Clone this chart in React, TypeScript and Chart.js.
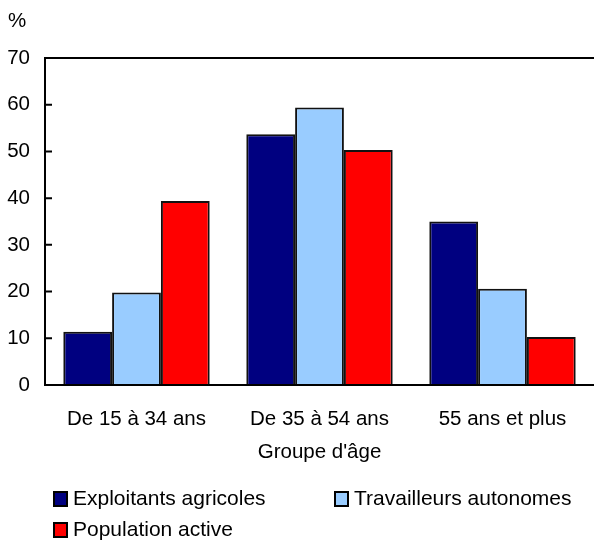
import React, { useEffect, useRef } from "react";
import { Chart, registerables } from "chart.js";

Chart.register(...registerables);

const categories = ["De 15 à 34 ans", "De 35 à 54 ans", "55 ans et plus"];
const seriesNames = ["Exploitants agricoles", "Travailleurs autonomes", "Population active"];
const exploitants = [11.4, 53.7, 35.0];
const travailleurs = [19.8, 59.4, 20.6];
const population = [39.4, 50.3, 10.3];
const colors = ["#000080", "#99CCFF", "#FF0000"];
const yTicks = [0, 10, 20, 30, 40, 50, 60, 70];
const xTitle = "Groupe d'âge";
const yUnit = "%";

const FONT = "'Liberation Sans', Arial, sans-serif";

const decorPlugin = {
  id: "decor",
  afterDraw(chart: any) {
    const { ctx, chartArea, scales } = chart;
    const { left, right, top, bottom } = chartArea;
    const y = scales.y;
    ctx.save();
    ctx.strokeStyle = "#000";
    ctx.lineWidth = 2;
    ctx.beginPath();
    ctx.moveTo(left, top);
    ctx.lineTo(right, top);
    ctx.moveTo(left, top - 1);
    ctx.lineTo(left, bottom + 1);
    ctx.moveTo(left - 1, bottom);
    ctx.lineTo(right, bottom);
    y.ticks.forEach((t: any) => {
      const py = y.getPixelForValue(t.value);
      ctx.moveTo(left, py);
      ctx.lineTo(left + 7, py);
    });
    ctx.stroke();

    ctx.fillStyle = "#000";
    ctx.font = `20.5px ${FONT}`;
    ctx.textBaseline = "middle";
    ctx.textAlign = "left";
    ctx.fillText(yUnit, 8, 21);

    ctx.textAlign = "center";
    ctx.fillText(xTitle, (left + right) / 2, 452);

    // legend
    const items = chart.data.datasets.map((d: any) => ({ label: d.label, color: d.backgroundColor }));
    const pos = [
      [54, 499],
      [335, 499],
      [54, 530],
    ];
    ctx.font = `21px ${FONT}`;
    ctx.textAlign = "left";
    items.forEach((it: any, i: number) => {
      const [bx, by] = pos[i];
      ctx.fillStyle = it.color;
      ctx.fillRect(bx, by - 7, 13, 14);
      ctx.strokeStyle = "#000";
      ctx.lineWidth = 2;
      ctx.strokeRect(bx, by - 7, 13, 14);
      ctx.fillStyle = "#000";
      ctx.fillText(it.label, bx + 19, by);
    });
    ctx.restore();
  },
};

export default function App() {
  const ref = useRef<HTMLCanvasElement>(null);
  useEffect(() => {
    document.body.style.margin = "0";
    const canvas = ref.current!;
    const chart = new Chart(canvas, {
      type: "bar",
      data: {
        labels: categories,
        datasets: [exploitants, travailleurs, population].map((vals, i) => ({
          label: seriesNames[i],
          data: vals,
          backgroundColor: colors[i],
          borderColor: "#111",
          borderWidth: 2,
          categoryPercentage: 0.8,
          barPercentage: 1.0,
        })),
      },
      options: {
        responsive: false,
        animation: false,
        layout: { padding: { top: 58, right: 0, bottom: 0, left: 0 } },
        plugins: {
          legend: { display: false },
          tooltip: { enabled: false },
        },
        scales: {
          x: {
            grid: { display: false, drawTicks: false },
            border: { display: false },
            ticks: {
              color: "#000",
              font: { family: FONT, size: 20.5 },
              padding: 22,
              maxRotation: 0,
            },
            afterFit(scale: any) {
              scale.height = 159;
            },
          },
          y: {
            min: 0,
            max: 70,
            grid: { display: false, drawTicks: false },
            border: { display: false },
            afterBuildTicks(scale: any) {
              scale.ticks = yTicks.map((v) => ({ value: v }));
            },
            ticks: {
              color: "#000",
              font: { family: FONT, size: 20.5 },
              padding: 15,
            },
            afterFit(scale: any) {
              scale.width = 45;
            },
          },
        },
      },
      plugins: [decorPlugin],
    });
    return () => chart.destroy();
  }, []);
  return (
    <div style={{ width: 594, height: 544 }}>
      <canvas ref={ref} width={594} height={544} style={{ display: "block" }} />
    </div>
  );
}
